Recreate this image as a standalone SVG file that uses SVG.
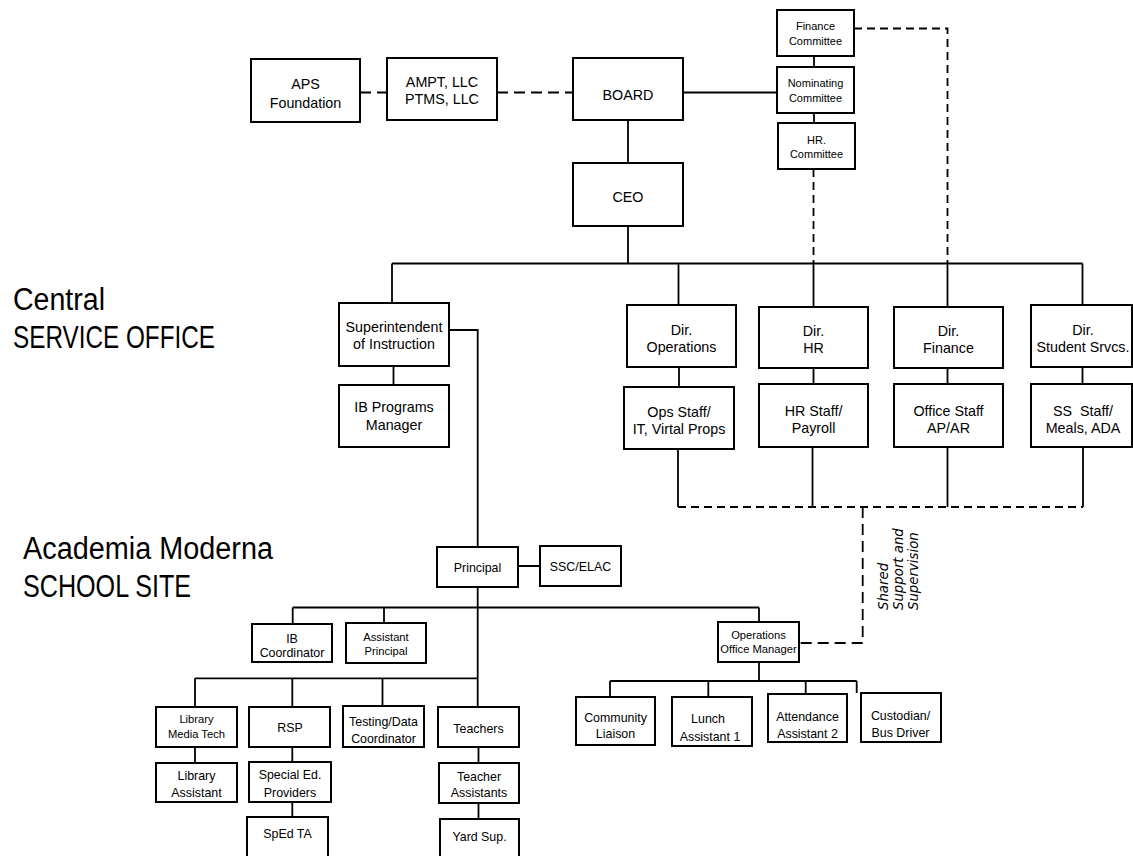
<svg xmlns="http://www.w3.org/2000/svg" width="1133" height="856" viewBox="0 0 1133 856">
<style>
rect.b{fill:#fff;stroke:#000;stroke-width:2}
text{font-family:"Liberation Sans",Arial,sans-serif;fill:#000;text-anchor:middle}
.f14{font-size:14.3px}
.f12{font-size:12.4px}
.f11{font-size:11.2px}
.f10{font-size:11px}
.lbl{font-size:31px;text-anchor:start}
.sh{font-family:"DejaVu Sans",sans-serif;font-style:italic;font-size:13.3px;text-anchor:start}
#connectors path{fill:none;stroke:#000;stroke-width:1.8}
#connectors path.d{stroke-dasharray:11 6}
#connectors path.d2{stroke-dasharray:8 5}
</style>
<rect width="1133" height="856" fill="#fff"/>
<g id="connectors">
<path class="d" d="M360 92.5H387M497 92.5H573"/>
<path d="M628 120V163M628 226V263.5M392 263.5H1082.5M392 263.5V303M678.5 263.5V305M813.5 263.5V307M947.5 263.5V307M1082.5 263.5V305"/>
<path d="M683 92.5H777M814 56V67M814 113V123"/>
<path class="d2" d="M813.5 169V263.5"/>
<path class="d2" d="M854 28.5H947.5V263.5"/>
<path d="M393.5 366V385M449 330H477.7V547"/>
<path d="M679 367V387M813.5 368V384M947.5 368V384M1082.5 367V384"/>
<path d="M678 449V507M812.5 447V507M947.5 447V507M1083 447V507"/>
<path class="d2" d="M678 507H1083"/>
<path class="d" d="M862.7 507V643H800"/>
<path d="M518 566H540M477.7 587V707M292.7 607.5H759M292.7 607.5V624M384 607.5V623M759 607.5V622"/>
<path d="M195 678.3H477.7M195 678.3V707M292.3 678.3V707M382.5 678.3V706"/>
<path d="M195 747V763M292.3 747V762M292.3 802V817M478.5 747V763M478.5 803V819"/>
<path d="M759 662V681M610 681H856.7M610 681V697M708.3 681V697M805.7 681V694M856.7 681V693"/>
</g>
<g id="labels">
<text class="lbl" x="13" y="310" textLength="92" lengthAdjust="spacingAndGlyphs">Central</text>
<text class="lbl" x="13" y="348" textLength="202" lengthAdjust="spacingAndGlyphs">SERVICE OFFICE</text>
<text class="lbl" x="23" y="559" textLength="250" lengthAdjust="spacingAndGlyphs">Academia Moderna</text>
<text class="lbl" x="23" y="597" textLength="168" lengthAdjust="spacingAndGlyphs">SCHOOL SITE</text>
<text class="sh" transform="translate(888,610) rotate(-90)">Shared</text>
<text class="sh" transform="translate(903,610) rotate(-90)">Support and</text>
<text class="sh" transform="translate(918,610) rotate(-90)">Supervision</text>
</g>
<g id="aps"><rect class="b" x="251" y="59" width="109" height="63"/><text class="f14" x="305.5" y="89">APS</text><text class="f14" x="305.5" y="108">Foundation</text></g>
<g id="ampt"><rect class="b" x="387" y="58" width="110" height="62"/><text class="f14" x="442" y="86.5">AMPT, LLC</text><text class="f14" x="442" y="104">PTMS, LLC</text></g>
<g id="board"><rect class="b" x="573" y="58" width="110" height="62"/><text class="f14" x="628" y="99.5">BOARD</text></g>
<g id="ceo"><rect class="b" x="573" y="163" width="110" height="63"/><text class="f14" x="628" y="202">CEO</text></g>
<g id="finance-committee"><rect class="b" x="777" y="10" width="77" height="46"/><text class="f10" x="815.5" y="30">Finance</text><text class="f10" x="815.5" y="45">Committee</text></g>
<g id="nominating-committee"><rect class="b" x="777" y="67" width="77" height="46"/><text class="f10" x="815.5" y="87">Nominating</text><text class="f10" x="815.5" y="102">Committee</text></g>
<g id="hr-committee"><rect class="b" x="778" y="123" width="77" height="46"/><text class="f10" x="816.5" y="143.5">HR.</text><text class="f10" x="816.5" y="158">Committee</text></g>
<g id="superintendent"><rect class="b" x="339" y="303" width="110" height="63"/><text class="f14" x="394" y="331.5">Superintendent</text><text class="f14" x="394" y="349">of Instruction</text></g>
<g id="ib-programs"><rect class="b" x="339" y="385" width="110" height="62"/><text class="f14" x="394" y="411.5">IB Programs</text><text class="f14" x="394" y="430">Manager</text></g>
<g id="dir-operations"><rect class="b" x="627" y="305" width="109" height="62"/><text class="f14" x="681.5" y="335">Dir.</text><text class="f14" x="681.5" y="352">Operations</text></g>
<g id="dir-hr"><rect class="b" x="759" y="307" width="109" height="61"/><text class="f14" x="813.5" y="336">Dir.</text><text class="f14" x="813.5" y="353">HR</text></g>
<g id="dir-finance"><rect class="b" x="894" y="307" width="109" height="61"/><text class="f14" x="948.5" y="336">Dir.</text><text class="f14" x="948.5" y="353">Finance</text></g>
<g id="dir-student"><rect class="b" x="1031" y="305" width="101" height="62"/><text class="f14" x="1083" y="335">Dir.</text><text class="f14" x="1083" y="352">Student Srvcs.</text></g>
<g id="ops-staff"><rect class="b" x="624" y="387" width="110" height="62"/><text class="f14" x="679" y="416.5">Ops Staff/</text><text class="f14" x="679" y="433.5">IT, Virtal Props</text></g>
<g id="hr-staff"><rect class="b" x="759" y="384" width="109" height="63"/><text class="f14" x="813.5" y="416">HR Staff/</text><text class="f14" x="813.5" y="433">Payroll</text></g>
<g id="office-staff"><rect class="b" x="894" y="384" width="109" height="63"/><text class="f14" x="948.5" y="416">Office Staff</text><text class="f14" x="948.5" y="433">AP/AR</text></g>
<g id="ss-staff"><rect class="b" x="1031" y="384" width="101" height="63"/><text class="f14" x="1083" y="416" xml:space="preserve">SS  Staff/</text><text class="f14" x="1083" y="433">Meals, ADA</text></g>
<g id="principal"><rect class="b" x="437" y="547" width="81" height="40"/><text class="f12" x="477.5" y="571.5">Principal</text></g>
<g id="ssc-elac"><rect class="b" x="540" y="546" width="81" height="40"/><text class="f12" x="580.5" y="571">SSC/ELAC</text></g>
<g id="ib-coordinator"><rect class="b" x="252" y="624" width="80" height="38"/><text class="f12" x="292" y="643">IB</text><text class="f12" x="292" y="656.5">Coordinator</text></g>
<g id="assistant-principal"><rect class="b" x="346" y="623" width="80" height="40"/><text class="f11" x="386" y="641">Assistant</text><text class="f11" x="386" y="655">Principal</text></g>
<g id="ops-office-manager"><rect class="b" x="718" y="622" width="81" height="40"/><text class="f11" x="758.5" y="638.5">Operations</text><text class="f11" x="758.5" y="653">Office Manager</text></g>
<g id="library-media-tech"><rect class="b" x="156" y="707" width="81" height="40"/><text class="f11" x="196.5" y="722.5">Library</text><text class="f11" x="196.5" y="738">Media Tech</text></g>
<g id="library-assistant"><rect class="b" x="156" y="763" width="81" height="39"/><text class="f12" x="196.5" y="780">Library</text><text class="f12" x="196.5" y="796.5">Assistant</text></g>
<g id="rsp"><rect class="b" x="249" y="707" width="81" height="40"/><text class="f12" x="290" y="731.5">RSP</text></g>
<g id="special-ed"><rect class="b" x="249" y="762" width="82" height="40"/><text class="f12" x="290" y="779">Special Ed.</text><text class="f12" x="290" y="796.5">Providers</text></g>
<g id="sped-ta"><rect class="b" x="247" y="817" width="81" height="40"/><text class="f12" x="287.5" y="838">SpEd TA</text></g>
<g id="testing"><rect class="b" x="343" y="706" width="81" height="41"/><text class="f12" x="383.5" y="726">Testing/Data</text><text class="f12" x="383.5" y="742.5">Coordinator</text></g>
<g id="teachers"><rect class="b" x="438" y="707" width="81" height="40"/><text class="f12" x="478.5" y="733">Teachers</text></g>
<g id="teacher-assistants"><rect class="b" x="439" y="763" width="80" height="40"/><text class="f12" x="479" y="780.5">Teacher</text><text class="f12" x="479" y="797">Assistants</text></g>
<g id="yard-sup"><rect class="b" x="440" y="819" width="79" height="40"/><text class="f12" x="479.5" y="841">Yard Sup.</text></g>
<g id="community-liaison"><rect class="b" x="576" y="697" width="79" height="48"/><text class="f12" x="615.5" y="722">Community</text><text class="f12" x="615.5" y="738">Liaison</text></g>
<g id="lunch"><rect class="b" x="672" y="697" width="80" height="49"/><text class="f12" x="708" y="723">Lunch</text><text class="f12" x="710" y="741">Assistant 1</text></g>
<g id="attendance"><rect class="b" x="768" y="694" width="79" height="48"/><text class="f12" x="807.5" y="721">Attendance</text><text class="f12" x="807.5" y="738">Assistant 2</text></g>
<g id="custodian"><rect class="b" x="861" y="693" width="80" height="49"/><text class="f12" x="900.5" y="720">Custodian/</text><text class="f12" x="900.5" y="737">Bus Driver</text></g>
</svg>
